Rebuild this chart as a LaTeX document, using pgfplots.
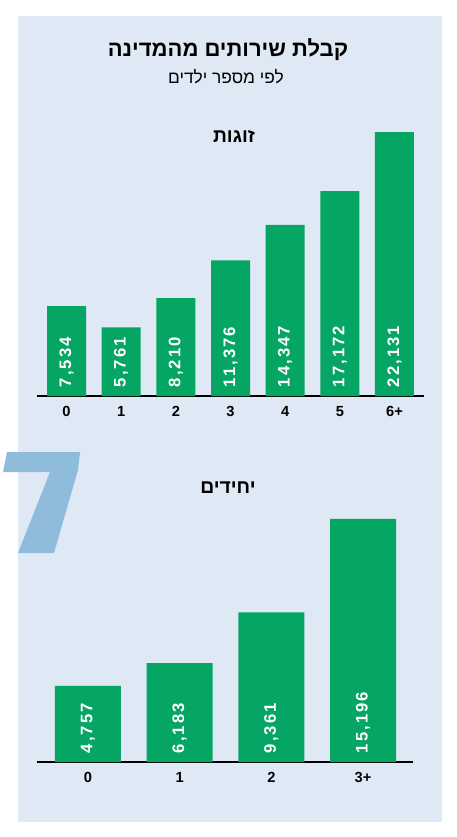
\documentclass[border=0pt]{standalone}
\usepackage{pgfplots}
\pgfplotsset{compat=1.18}
\usepackage{pgfplotstable}
\usepackage{fontspec}
\setmainfont{Liberation Sans}
\newfontfamily\hebfont[Script=Hebrew]{Liberation Sans}
\newfontfamily\numfont[LetterSpace=12]{Liberation Sans}
\TeXXeTstate=1
\definecolor{bg}{HTML}{DFE8F5}
\definecolor{bargreen}{HTML}{05A564}
\definecolor{seven}{HTML}{8FBBDD}

\pgfplotstableread{
x y
0 7534
1 5761
2 8210
3 11376
4 14347
5 17172
6 22131
}\couples
\pgfplotstableread{
x y
0 4757
1 6183
2 9361
3 15196
}\singles

\pgfplotsset{
  chartstyle/.style={
    scale only axis, anchor=south west, ymin=0,
    axis x line=bottom, axis y line=none,
    axis line style={black, line width=1.5pt, -},
    xtick=data, xtick style={draw=none}, major tick length=0pt,
    xticklabel style={font=\bfseries\fontsize{11}{13}\selectfont, yshift=-4.5pt},
    clip=false,
    /pgf/number format/assume math mode=true,
  },
  vallabels/.style={
    draw=none, mark=none, point meta=explicit,
    nodes near coords={\pgfmathprintnumber[fixed,precision=0,1000 sep={,}]{\pgfplotspointmeta}},
    every node near coord/.append style={rotate=90, anchor=west, inner xsep=6.5pt, inner ysep=0pt,
      text=white, font=\numfont\bfseries\fontsize{12.5}{14}\selectfont},
  },
}

\begin{document}
\begin{tikzpicture}
% background (px units, y down)
\begin{scope}[x=0.75pt, y=-0.75pt]
  \fill[white] (0,0) rectangle (456,837);
  \fill[bg] (18,16) rectangle (442,822);
  \fill[seven] (7,452) -- (80,452) -- (78,470) -- (54,553) -- (18,553) -- (50,472) -- (3,472) -- cycle;
  \node[font=\hebfont\bfseries\fontsize{16.5}{19}\selectfont] at (228,50) {\beginR קבלת שירותים מהמדינה\endR};
  \node[font=\hebfont\fontsize{13}{15}\selectfont] at (226,77) {\beginR לפי מספר ילדים\endR};
  \node[font=\hebfont\bfseries\fontsize{14.5}{16}\selectfont] at (234,136) {\beginR זוגות\endR};
  \node[font=\hebfont\bfseries\fontsize{14.5}{16}\selectfont] at (228,488) {\beginR יחידים\endR};
\end{scope}

\begin{axis}[chartstyle,
  at={(27.75pt,-297pt)},
  width=290.25pt, height=214.7pt,
  xmin=-0.54, xmax=6.54, ymax=24000,
  xticklabels={0,1,2,3,4,5,6+},
]
\addplot[ybar, bar width=29.25pt, fill=bargreen, draw=none] table[x=x,y=y] {\couples};
\addplot[vallabels] table[x=x, y expr=0, meta=y] {\couples};
\end{axis}

\begin{axis}[chartstyle,
  at={(27.75pt,-571.5pt)},
  width=282pt, height=191.9pt,
  xmin=-0.556, xmax=3.545, ymax=16000,
  xticklabels={0,1,2,3+},
]
\addplot[ybar, bar width=49.5pt, fill=bargreen, draw=none] table[x=x,y=y] {\singles};
\addplot[vallabels] table[x=x, y expr=0, meta=y] {\singles};
\end{axis}
\end{tikzpicture}
\end{document}
